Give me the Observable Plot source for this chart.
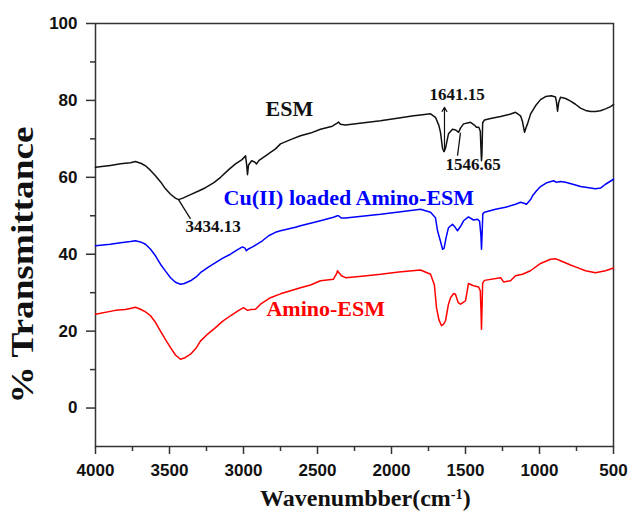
<!DOCTYPE html>
<html><head><meta charset="utf-8">
<script src="https://cdn.jsdelivr.net/npm/d3@7"></script>
<script src="https://cdn.jsdelivr.net/npm/@observablehq/plot@0.6"></script>
<style>body{margin:0;background:#fff}</style>
</head><body><div id="chart"></div>
<script>
// ---- data ----
const esmWn = [4000,3900,3830,3764,3730,3690,3662,3628,3595,3560,3527,3493,3460,3439,3410,3358,3300,3257,3200,3155,3100,3054,3010,2986,2978,2973,2966,2945,2925,2912,2895,2851,2784,2750,2682,2615,2547,2480,2400,2370,2358,2345,2311,2200,2074,1950,1850,1804,1736,1703,1680,1669,1655,1645,1635,1615,1588,1566,1547,1534,1513,1480,1466,1440,1426,1410,1400,1394,1392,1389,1384,1372,1330,1263,1200,1162,1128,1115,1101,1090,1081,1060,1027,993,959,920,892,885,878,870,858,824,790,757,723,689,655,622,588,554,520,500];
const esmT  = [62.6,63.1,63.5,63.8,64.1,63.6,63.0,61.8,60.4,58.8,57.0,55.6,54.6,54.2,54.6,55.5,56.5,57.3,58.6,60.0,62.0,63.5,64.6,65.6,63.0,60.7,63.2,64.3,64.0,63.5,64.4,65.6,67.4,68.7,69.8,70.8,71.5,72.5,73.3,74.0,74.4,73.8,73.6,74.1,74.7,75.4,76.0,76.2,76.5,75.6,73.5,71.7,67.5,66.7,67.6,71.3,72.5,72.3,71.7,72.8,73.9,74.2,74.3,73.6,73.0,73.0,72.0,66.0,64.3,66.0,74.2,74.9,75.3,75.8,76.4,76.9,76.0,74.5,71.7,73.0,73.9,76.5,78.6,80.2,81.0,81.2,80.9,79.5,77.2,79.5,80.8,80.5,79.8,79.0,78.0,77.4,77.1,77.1,77.3,77.8,78.4,78.9];

const cuWn = [4000,3900,3831,3764,3730,3696,3662,3628,3595,3561,3527,3493,3460,3426,3400,3358,3320,3291,3240,3189,3140,3088,3040,3007,2990,2980,2970,2939,2900,2872,2830,2784,2750,2649,2615,2480,2392,2365,2358,2338,2311,2200,2074,1950,1804,1736,1703,1689,1670,1655,1645,1630,1615,1588,1570,1554,1534,1513,1480,1446,1419,1405,1396,1392,1388,1383,1372,1297,1230,1162,1128,1100,1088,1060,1047,1020,993,950,905,885,858,824,757,723,655,622,588,554,500];
const cuT  = [42.2,42.6,43.0,43.3,43.5,43.2,42.6,41.3,39.6,37.4,35.6,33.9,32.7,32.2,32.4,33.1,34.1,35.2,36.6,37.8,39.0,40.0,41.2,41.9,41.6,40.9,41.3,41.9,42.8,43.5,44.8,45.7,46.1,47.0,47.4,48.7,49.6,50.0,50.0,49.4,49.4,49.9,50.4,51.0,51.7,50.9,49.5,46.1,43.5,41.3,41.5,44.5,46.9,47.8,47.0,46.1,47.2,48.7,49.7,48.9,49.1,48.6,45.0,41.3,45.0,50.5,50.9,51.7,52.2,53.0,53.5,53.2,53.0,54.2,55.2,56.5,57.6,58.6,59.1,58.7,58.9,58.7,58.0,57.6,57.2,57.0,57.2,58.2,59.5];

const aminoWn = [4000,3865,3800,3764,3730,3696,3662,3628,3595,3561,3527,3493,3460,3426,3400,3358,3320,3291,3240,3189,3140,3088,3040,3000,2980,2973,2950,2919,2885,2818,2750,2682,2615,2547,2480,2392,2370,2365,2355,2338,2311,2200,2074,1950,1804,1736,1710,1696,1680,1662,1648,1635,1615,1601,1580,1568,1550,1534,1515,1500,1486,1480,1446,1412,1400,1395,1392,1389,1384,1372,1263,1243,1196,1162,1115,1061,993,926,890,858,790,757,689,622,554,500];
const aminoT  = [24.4,25.4,25.6,25.9,26.2,25.7,25.0,24.0,22.3,20.0,17.8,15.7,13.8,12.7,13.0,14.0,15.6,17.4,19.3,20.9,22.6,24.0,25.2,26.1,25.6,25.4,25.6,25.7,27.0,28.7,29.7,30.5,31.3,32.0,33.1,33.5,35.0,35.7,35.2,34.4,33.9,34.3,34.8,35.4,35.9,34.8,32.0,26.1,23.0,21.4,21.8,22.7,27.0,28.7,29.8,29.6,27.5,27.0,27.5,27.9,31.0,32.4,31.8,31.5,30.5,25.0,20.5,25.0,32.5,33.2,33.9,32.8,33.1,34.4,34.8,35.7,37.6,38.7,38.8,38.3,37.2,36.7,35.7,35.2,35.7,36.4];

const seriesNames  = ["ESM", "Cu(II) loaded Amino-ESM", "Amino-ESM"];
const seriesColors = ["#111111", "#0000ff", "#ff0000"];
const seriesLabelWn = [2851, 3135, 2845];
const seriesLabelT  = [76.0, 52.9, 24.0];

const peakLabels  = ["3434.13", "1641.15", "1546.65"];
const peakLabelWn = [3392, 1743, 1635];
const peakLabelT  = [45.8, 80.2, 62.0];

// leader lines
const leaderWn1 = [3439, 1534];
const leaderT1  = [54.2, 71.6];
const leaderWn2 = [3358, 1554];
const leaderT2  = [49.2, 65.6];
// arrow for 1641.15
const arrowWn = [1642];
const arrowT1 = [66.7];
const arrowT2 = [78.2];

const yMajorTicks = [0, 20, 40, 60, 80, 100];
const yMinorTicks = [10, 30, 50, 70, 90];
const xMajorTicks = [4000, 3500, 3000, 2500, 2000, 1500, 1000, 500];
const xMinorTicks = [3750, 3250, 2750, 2250, 1750, 1250, 750];

const xTitle = "Wavenumbber(cm-1)";
const yTitle = "% Transmittance";
const yTitleAt = [37.2];
const xTitleAt = [2176];

// ---- build tables ----
const rows = (wn, t, s) => wn.map((w, i) => ({wn: w, t: t[i], series: s}));
const curves = [
  rows(esmWn, esmT, seriesNames[0]),
  rows(cuWn, cuT, seriesNames[1]),
  rows(aminoWn, aminoT, seriesNames[2])
];
const seriesLabels = seriesNames.map((n, i) => ({name: n, wn: seriesLabelWn[i], t: seriesLabelT[i], color: seriesColors[i]}));
const peaks = peakLabels.map((p, i) => ({label: p, wn: peakLabelWn[i], t: peakLabelT[i]}));
const leaders = leaderWn1.map((w, i) => ({x1: w, y1: leaderT1[i], x2: leaderWn2[i], y2: leaderT2[i]}));
const arrows = arrowWn.map((w, i) => ({x: w, y1: arrowT1[i], y2: arrowT2[i]}));

const axisStroke = "#333";
const serif = "Liberation Serif, Times New Roman, serif";

const plot = Plot.plot({
  width: 628,
  height: 516,
  marginLeft: 95,
  marginRight: 15,
  marginTop: 23,
  marginBottom: 70,
  style: {fontFamily: "Liberation Sans, Arial, sans-serif", fontSize: "17px", fontWeight: "bold", background: "#fff", color: "#111"},
  x: {domain: [4000, 500]},
  y: {domain: [-10, 100]},
  marks: [
    Plot.axisY({ticks: yMajorTicks, tickSize: 9, tickPadding: 9, label: null, stroke: axisStroke, strokeWidth: 1.5}),
    Plot.axisY({ticks: yMinorTicks, tickSize: 5, tickFormat: () => "", label: null, stroke: axisStroke, strokeWidth: 1.5}),
    Plot.axisX({ticks: xMajorTicks, tickSize: 8, tickPadding: 9, tickFormat: d => String(d), label: null, stroke: axisStroke, strokeWidth: 1.5}),
    Plot.axisX({ticks: xMinorTicks, tickSize: 5, tickFormat: () => "", label: null, stroke: axisStroke, strokeWidth: 1.5}),
    Plot.frame({stroke: axisStroke, strokeWidth: 1.5}),
    ...curves.map((c, i) => Plot.line(c, {x: "wn", y: "t", stroke: seriesColors[i], strokeWidth: 1.5})),
    Plot.link(leaders, {x1: "x1", y1: "y1", x2: "x2", y2: "y2", stroke: "#111", strokeWidth: 1.3}),
    Plot.arrow(arrows, {x1: "x", y1: "y1", x2: "x", y2: "y2", stroke: "#111", strokeWidth: 1.2, headLength: 6}),
    Plot.text(seriesLabels, {x: "wn", y: "t", text: "name", fill: "color", textAnchor: "start", lineAnchor: "bottom", fontFamily: serif, fontWeight: "bold", fontSize: 22}),
    Plot.text(peaks, {x: "wn", y: "t", text: "label", fill: "#111", textAnchor: "start", lineAnchor: "bottom", fontFamily: serif, fontWeight: "bold", fontSize: 17}),
    Plot.text(yTitleAt, {frameAnchor: "left", y: d => d, text: () => yTitle, dx: -72, rotate: -90, textAnchor: "middle", lineAnchor: "middle", fontFamily: serif, fontWeight: "bold", fontSize: 31, fill: "#111"}),
    Plot.text(xTitleAt, {frameAnchor: "bottom", x: d => d, text: () => xTitle, dy: 59, textAnchor: "middle", lineAnchor: "bottom", fontFamily: serif, fontWeight: "bold", fontSize: 24, fill: "#111"})
  ]
});

// stretch the y title along its length like the reference
d3.select(plot).selectAll("text").filter(function() { return this.textContent === yTitle; })
  .attr("textLength", 277).attr("lengthAdjust", "spacingAndGlyphs");

// superscript for cm^-1
d3.select(plot).selectAll("text").filter(function() { return this.textContent === xTitle; })
  .each(function() {
    const t = d3.select(this);
    t.text(null);
    t.append("tspan").text("Wavenumbber(cm");
    t.append("tspan").attr("dy", "-0.45em").attr("font-size", "0.6em").text("-1");
    t.append("tspan").attr("dy", "0.27em").text(")");
  });

document.getElementById("chart").appendChild(plot);
</script>
</body></html>
